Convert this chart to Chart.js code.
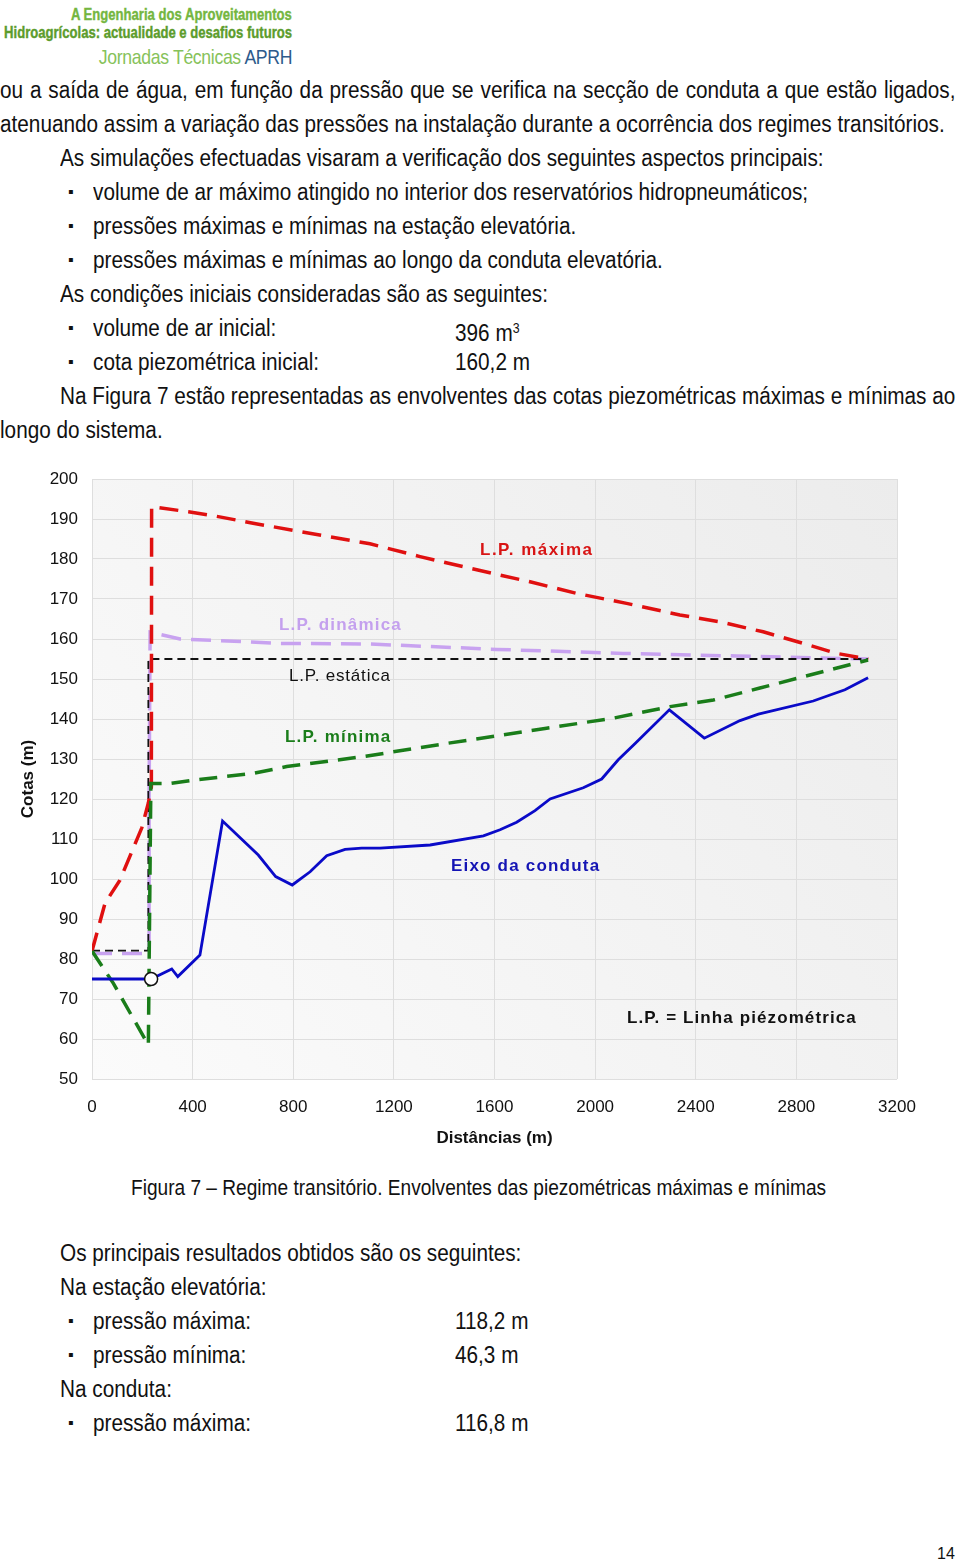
<!DOCTYPE html>
<html lang="pt">
<head>
<meta charset="utf-8">
<script src="https://cdn.jsdelivr.net/npm/chart.js@4.4.1/dist/chart.umd.min.js"></script>
<style>
  body { margin: 0; width: 960px; height: 1560px; background: #fff; position: relative; overflow: hidden;
         font-family: "Liberation Sans", Arial, sans-serif; color: #111; }
  .t { position: absolute; font-size: 23.5px; line-height: 28px; white-space: nowrap;
       transform: scaleX(0.883); transform-origin: left top; }
  .just { text-align: justify; text-align-last: justify; }
  .bul { position: absolute; left: 68px; font-size: 16px; line-height: 28px; }
  .logo { position: absolute; right: 668px; white-space: nowrap; transform-origin: right top; }
  .lbl { position: absolute; font-size: 17px; font-weight: bold;
         letter-spacing: 1.2px; white-space: nowrap; line-height: 20px; }
  #wrap { position: absolute; left: 0; top: 440px; width: 960px; height: 730px; }
</style>
</head>
<body>
<div class="logo" style="top:5px;font:bold 17px 'Liberation Sans',sans-serif;color:#74b640;transform:scaleX(0.77);-webkit-text-stroke:0.4px #74b640">A Engenharia dos Aproveitamentos</div>
<div class="logo" style="top:23px;font:bold 17px 'Liberation Sans',sans-serif;color:#5c9c2c;transform:scaleX(0.77);-webkit-text-stroke:0.4px #5c9c2c">Hidroagrícolas: actualidade e desafios futuros</div>
<div class="logo" style="top:45px;font:21px 'Liberation Sans',sans-serif;color:#86c25a;letter-spacing:-0.4px;transform:scaleX(0.84)">Jornadas Técnicas <span style="color:#2d5a8c">APRH</span></div>

<div class="t just" style="left:0;top:76px;width:1082px">ou a saída de água, em função da pressão que se verifica na secção de conduta a que estão ligados,</div>
<div class="t" style="left:0;top:110px">atenuando assim a variação das pressões na instalação durante a ocorrência dos regimes transitórios.</div>
<div class="t" style="left:60px;top:144px">As simulações efectuadas visaram a verificação dos seguintes aspectos principais:</div>
<div class="bul" style="top:178px">▪</div><div class="t" style="left:93px;top:178px">volume de ar máximo atingido no interior dos reservatórios hidropneumáticos;</div>
<div class="bul" style="top:212px">▪</div><div class="t" style="left:93px;top:212px">pressões máximas e mínimas na estação elevatória.</div>
<div class="bul" style="top:246px">▪</div><div class="t" style="left:93px;top:246px">pressões máximas e mínimas ao longo da conduta elevatória.</div>
<div class="t" style="left:60px;top:280px">As condições iniciais consideradas são as seguintes:</div>
<div class="bul" style="top:314px">▪</div><div class="t" style="left:93px;top:314px">volume de ar inicial:</div>
<div class="t" style="left:455px;top:314px">396 m<sup style="font-size:14px;vertical-align:8px">3</sup></div>
<div class="bul" style="top:348px">▪</div><div class="t" style="left:93px;top:348px">cota piezométrica inicial:</div>
<div class="t" style="left:455px;top:348px">160,2 m</div>
<div class="t just" style="left:60px;top:382px;width:1014px">Na Figura 7 estão representadas as envolventes das cotas piezométricas máximas e mínimas ao</div>
<div class="t" style="left:0;top:416px">longo do sistema.</div>

<div id="wrap"><canvas id="chart"></canvas></div>

<div class="lbl" style="left:480px;top:540px;color:#d81414;letter-spacing:1.5px">L.P. máxima</div>
<div class="lbl" style="left:279px;top:615px;color:#c4a0ee">L.P. dinâmica</div>
<div class="lbl" style="left:289px;top:666px;color:#111;font-weight:normal;letter-spacing:0.8px">L.P. estática</div>
<div class="lbl" style="left:285px;top:727px;color:#1a7d1a">L.P. mínima</div>
<div class="lbl" style="left:451px;top:856px;color:#1414b4">Eixo da conduta</div>
<div class="lbl" style="left:627px;top:1008px;color:#111;letter-spacing:1.1px">L.P. = Linha piézométrica</div>

<div class="t" style="left:131px;top:1174px;font-size:22px;transform:scaleX(0.868)">Figura 7 – Regime transitório. Envolventes das piezométricas máximas e mínimas</div>

<div class="t" style="left:60px;top:1239px">Os principais resultados obtidos são os seguintes:</div>
<div class="t" style="left:60px;top:1273px">Na estação elevatória:</div>
<div class="bul" style="top:1307px">▪</div><div class="t" style="left:93px;top:1307px">pressão máxima:</div>
<div class="t" style="left:455px;top:1307px">118,2 m</div>
<div class="bul" style="top:1341px">▪</div><div class="t" style="left:93px;top:1341px">pressão mínima:</div>
<div class="t" style="left:455px;top:1341px">46,3 m</div>
<div class="t" style="left:60px;top:1375px">Na conduta:</div>
<div class="bul" style="top:1409px">▪</div><div class="t" style="left:93px;top:1409px">pressão máxima:</div>
<div class="t" style="left:455px;top:1409px">116,8 m</div>

<div class="t" style="left:937px;top:1540px;font-size:16px;transform:none">14</div>

<script>
// Eixo da conduta (perfil da conduta)
const eixoX = [0, 235, 317, 341, 429, 519, 661, 730, 796, 867, 933, 1006, 1072, 1145, 1344, 1556, 1622, 1688, 1761, 1821, 1953, 2026, 2092, 2159, 2295, 2434, 2576, 2649, 2867, 2934, 2993, 3085];
const eixoY = [75, 75, 77.5, 75.6, 81, 114.5, 106, 100.6, 98.5, 101.8, 105.8, 107.4, 107.7, 107.7, 108.5, 110.8, 112.3, 114.2, 117.1, 120, 122.8, 125, 129.8, 133.9, 142.3, 135.2, 139.6, 141.2, 144.5, 146, 147.3, 150.3];

// L.P. máxima
const maxX = [0, 52, 111, 198, 224, 236, 237, 383, 502, 635, 1105, 1304, 1502, 1741, 1927, 2125, 2337, 2496, 2668, 2827, 2960, 3086];
const maxY = [82, 94, 99.7, 112.8, 119, 123, 193.1, 191.8, 190.6, 189, 183.8, 180.6, 177.7, 174.3, 171.4, 168.9, 166, 164.3, 161.8, 158.9, 156.4, 155];

// L.P. dinâmica
const dinX = [0, 227, 227, 231, 350, 509, 747, 1105, 1609, 2111, 2563, 3085];
const dinY = [81.4, 81.4, 120, 161.7, 160, 159.6, 158.9, 158.75, 157.4, 156.4, 155.75, 155];

// L.P. estática
const estX = [0, 224, 224, 3085];
const estY = [82.1, 82.1, 155, 155];

// L.P. mínima
const minX = [0, 85, 224, 234, 310, 389, 641, 774, 1078, 1410, 1807, 2072, 2298, 2470, 2655, 3085];
const minY = [82, 73.9, 58.5, 123.9, 123.9, 124.6, 126.4, 128.1, 130.6, 133.9, 137.7, 140.2, 143.1, 144.75, 147.75, 154.75];

// estação elevatória
const estacaoX = [235];
const estacaoY = [75];

function pts(xs, ys) {
    return xs.map((x, i) => ({ x: x, y: ys[i] }));
}

// fundo da área do gráfico em degradê
const plotBg = {
    id: 'plotBg',
    beforeDraw(chart) {
        const { ctx, chartArea: a } = chart;
        const g = ctx.createLinearGradient(a.left, a.bottom, a.right, a.top);
        g.addColorStop(0, '#fbfbfb');
        g.addColorStop(1, '#ececec');
        ctx.save();
        ctx.fillStyle = g;
        ctx.fillRect(a.left, a.top, a.right - a.left, a.bottom - a.top);
        ctx.restore();
    }
};

const ctx = document.getElementById('chart').getContext('2d');
new Chart(ctx, {
    type: 'line',
    data: {
        datasets: [
            {
                label: 'Estação',
                data: pts(estacaoX, estacaoY),
                showLine: false,
                pointRadius: 6.5,
                pointBackgroundColor: '#ffffff',
                pointBorderColor: '#111111',
                pointBorderWidth: 1.5
            },
            {
                label: 'Eixo da conduta',
                data: pts(eixoX, eixoY),
                borderColor: '#0a0ac8',
                borderWidth: 2.8,
                pointRadius: 0
            },
            {
                label: 'L.P. mínima',
                data: pts(minX, minY),
                borderColor: '#1a7d1a',
                borderWidth: 3.5,
                borderDash: [18, 10],
                pointRadius: 0
            },
            {
                label: 'L.P. máxima',
                data: pts(maxX, maxY),
                borderColor: '#e01010',
                borderWidth: 3.5,
                borderDash: [19, 10],
                pointRadius: 0
            },
            {
                label: 'L.P. estática',
                data: pts(estX, estY),
                borderColor: '#111111',
                borderWidth: 1.8,
                borderDash: [8, 5],
                pointRadius: 0
            },
            {
                label: 'L.P. dinâmica',
                data: pts(dinX, dinY),
                borderColor: '#c8a2f0',
                borderWidth: 3.5,
                borderDash: [20, 10],
                pointRadius: 0
            }
        ]
    },
    options: {
        responsive: true,
        maintainAspectRatio: false,
        animation: false,
        layout: { padding: { top: 39, right: 63, left: 0, bottom: 0 } },
        plugins: {
            legend: { display: false },
            tooltip: { enabled: false }
        },
        scales: {
            x: {
                type: 'linear',
                min: 0,
                max: 3200,
                afterFit: function(s) { s.height = 91; },
                grid: { color: '#dedede', drawTicks: false },
                border: { display: false },
                ticks: {
                    stepSize: 400,
                    padding: 18,
                    color: '#111',
                    font: { family: '"Liberation Sans", Arial, sans-serif', size: 17 },
                    callback: function(value) { return String(value); }
                },
                title: {
                    display: true,
                    text: 'Distâncias (m)',
                    color: '#111',
                    padding: { top: 0, bottom: 21 },
                    font: { family: '"Liberation Sans", Arial, sans-serif', size: 17, weight: 'bold' }
                }
            },
            y: {
                min: 50,
                max: 200,
                afterFit: function(s) { s.width = 92; },
                grid: { color: '#dedede', drawTicks: false },
                border: { display: false },
                ticks: {
                    stepSize: 10,
                    padding: 14,
                    color: '#111',
                    font: { family: '"Liberation Sans", Arial, sans-serif', size: 17 }
                },
                title: {
                    display: true,
                    text: 'Cotas (m)',
                    color: '#111',
                    padding: { top: 18, bottom: 0 },
                    font: { family: '"Liberation Sans", Arial, sans-serif', size: 17, weight: 'bold' }
                }
            }
        }
    },
    plugins: [plotBg]
});
</script>
</body>
</html>
